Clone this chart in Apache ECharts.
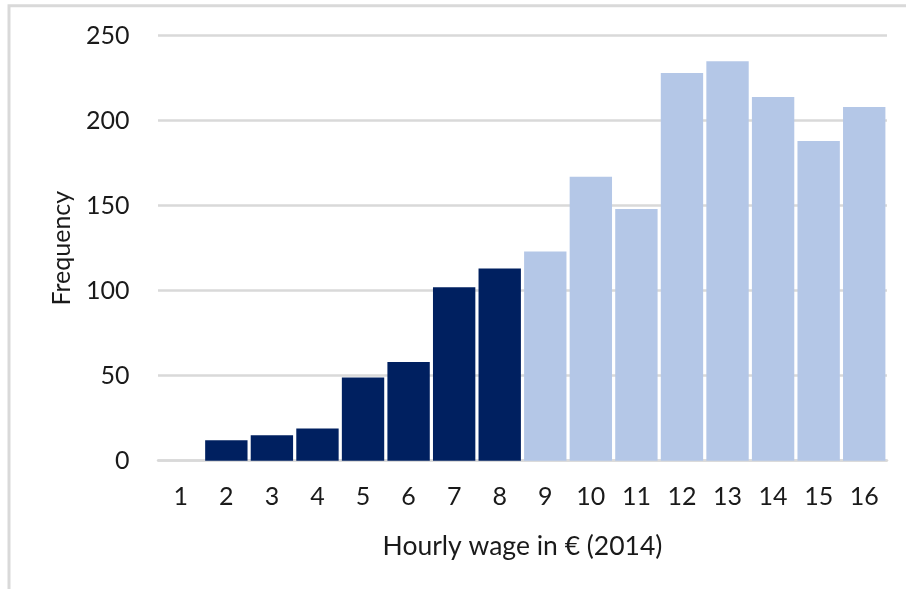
<!DOCTYPE html>
<html>
<head>
<meta charset="utf-8">
<script src="https://cdn.jsdelivr.net/npm/echarts@6/dist/echarts.min.js"></script>
<style>
  html, body { margin: 0; padding: 0; background: #fff; }
  #chart { width: 906px; height: 589px; }
</style>
</head>
<body>
<div id="chart"></div>
<script>
// Hourly wage bins (€, 2014) and the number of workers in each
const wageBins = ['1', '2', '3', '4', '5', '6', '7', '8', '9', '10', '11', '12', '13', '14', '15', '16'];
const frequency = [0, 12, 15, 19, 49, 58, 102, 113, 123, 167, 148, 228, 235, 214, 188, 208];
// Bins up to this wage are drawn dark (below the 8.50 € minimum wage)
const belowMinimumUpTo = 8;
const yTicks = { min: 0, max: 250, interval: 50 };

const DARK = '#002060';
const LIGHT = '#b4c7e7';
const FONT = 'Lato, "Open Sans", sans-serif';
const TEXT = '#1a1a1a';

const chart = echarts.init(document.getElementById('chart'), null, { renderer: 'canvas' });

chart.setOption({
  animation: false,
  backgroundColor: '#ffffff',
  textStyle: { fontFamily: FONT },
  graphic: [{
    type: 'rect',
    silent: true,
    shape: { x: 9, y: 5.7, width: 1200, height: 1200 },
    style: { fill: 'none', stroke: '#d9d9d9', lineWidth: 3 }
  }],
  grid: { left: 158, right: 19, top: 35.7, bottom: 128.3, containLabel: false },
  xAxis: {
    type: 'category',
    data: wageBins,
    name: 'Hourly wage in € (2014)',
    nameLocation: 'middle',
    nameGap: 72,
    nameTextStyle: { fontFamily: FONT, fontSize: 26.5, color: TEXT },
    axisLine: { lineStyle: { color: '#d9d9d9', width: 2.5 } },
    axisTick: { show: false },
    axisLabel: { fontFamily: FONT, fontSize: 25, color: TEXT, margin: 24 }
  },
  yAxis: {
    type: 'value',
    min: yTicks.min,
    max: yTicks.max,
    interval: yTicks.interval,
    name: 'Frequency',
    nameLocation: 'middle',
    nameGap: 84,
    nameTextStyle: { fontFamily: FONT, fontSize: 25, color: TEXT },
    axisLine: { show: false },
    axisTick: { show: false },
    axisLabel: { fontFamily: FONT, fontSize: 25, color: TEXT, margin: 28.5 },
    splitLine: { lineStyle: { color: '#d9d9d9', width: 2.5 } }
  },
  series: [{
    type: 'bar',
    barCategoryGap: '7%',
    data: frequency.map((v, i) => ({
      value: v,
      itemStyle: { color: Number(wageBins[i]) <= belowMinimumUpTo ? DARK : LIGHT }
    }))
  }]
});
</script>
</body>
</html>
